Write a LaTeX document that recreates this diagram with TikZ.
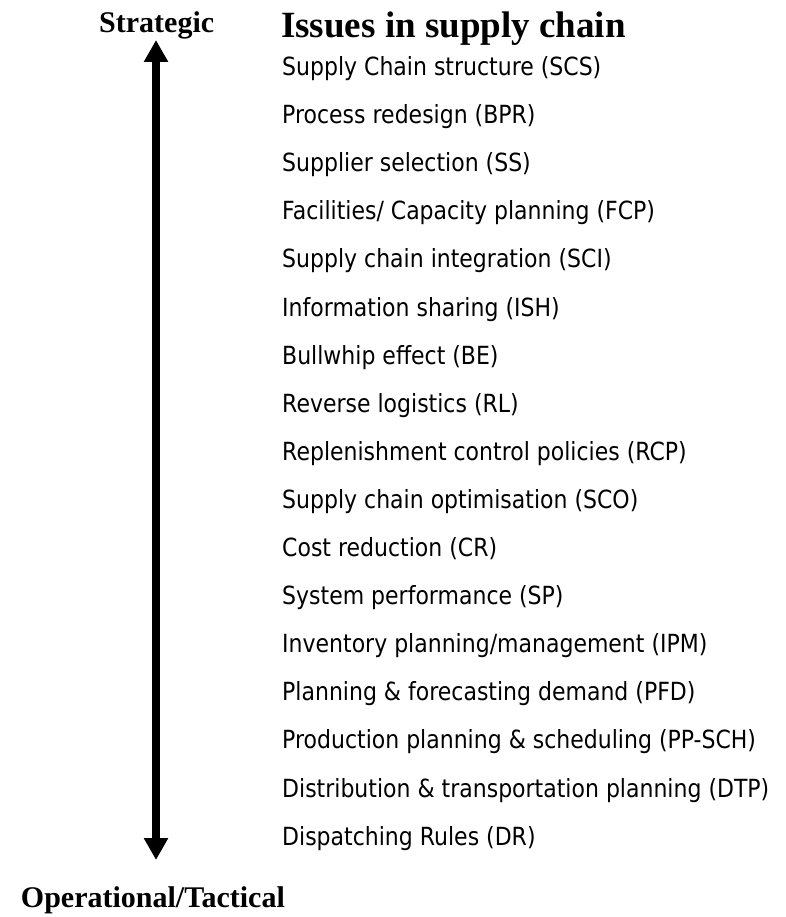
\documentclass[tikz,border=0pt]{standalone}
\usepackage{fontspec}
\setmainfont{Liberation Serif}
\newfontfamily\itemfont[FakeStretch=0.88]{DejaVu Sans}
\usetikzlibrary{arrows.meta}
\tikzset{
  itemtext/.style={anchor=base west, inner sep=0pt, font=\itemfont\fontsize{25}{30}\selectfont},
  boldlabel/.style={inner sep=0pt, font=\bfseries\fontsize{30}{36}\selectfont},
  titletext/.style={anchor=base west, inner sep=0pt, font=\bfseries\fontsize{37}{44}\selectfont},
  axisarrow/.style={line width=8pt, {Triangle[length=22pt,width=23pt]}-{Triangle[length=22pt,width=23pt]}}
}
\begin{document}
\begin{tikzpicture}[x=1pt,y=-1pt]
\useasboundingbox (0,0) rectangle (785,917);
\node[boldlabel, anchor=base west] (strategic) at (99,33) {Strategic};
\node[titletext] (title) at (281,38) {Issues in supply chain};
\node[boldlabel, anchor=base east] (oper) at (285,907) {Operational/Tactical};
\coordinate (top) at (156,40);
\coordinate (bot) at (156,860);
\draw[axisarrow] (bot) -- (top);
\foreach \t [count=\i from 0] in {
  Supply Chain structure (SCS),
  Process redesign (BPR),
  Supplier selection (SS),
  Facilities/ Capacity planning (FCP),
  Supply chain integration (SCI),
  Information sharing (ISH),
  Bullwhip effect (BE),
  Reverse logistics (RL),
  Replenishment control policies (RCP),
  Supply chain optimisation (SCO),
  Cost reduction (CR),
  System performance (SP),
  Inventory planning/management (IPM),
  Planning \& forecasting demand (PFD),
  Production planning \& scheduling (PP-SCH),
  Distribution \& transportation planning (DTP),
  Dispatching Rules (DR)}
{
  \node[itemtext] (item\i) at (282,{75.5+48.1*\i}) {\t};
}
\end{tikzpicture}
\end{document}
